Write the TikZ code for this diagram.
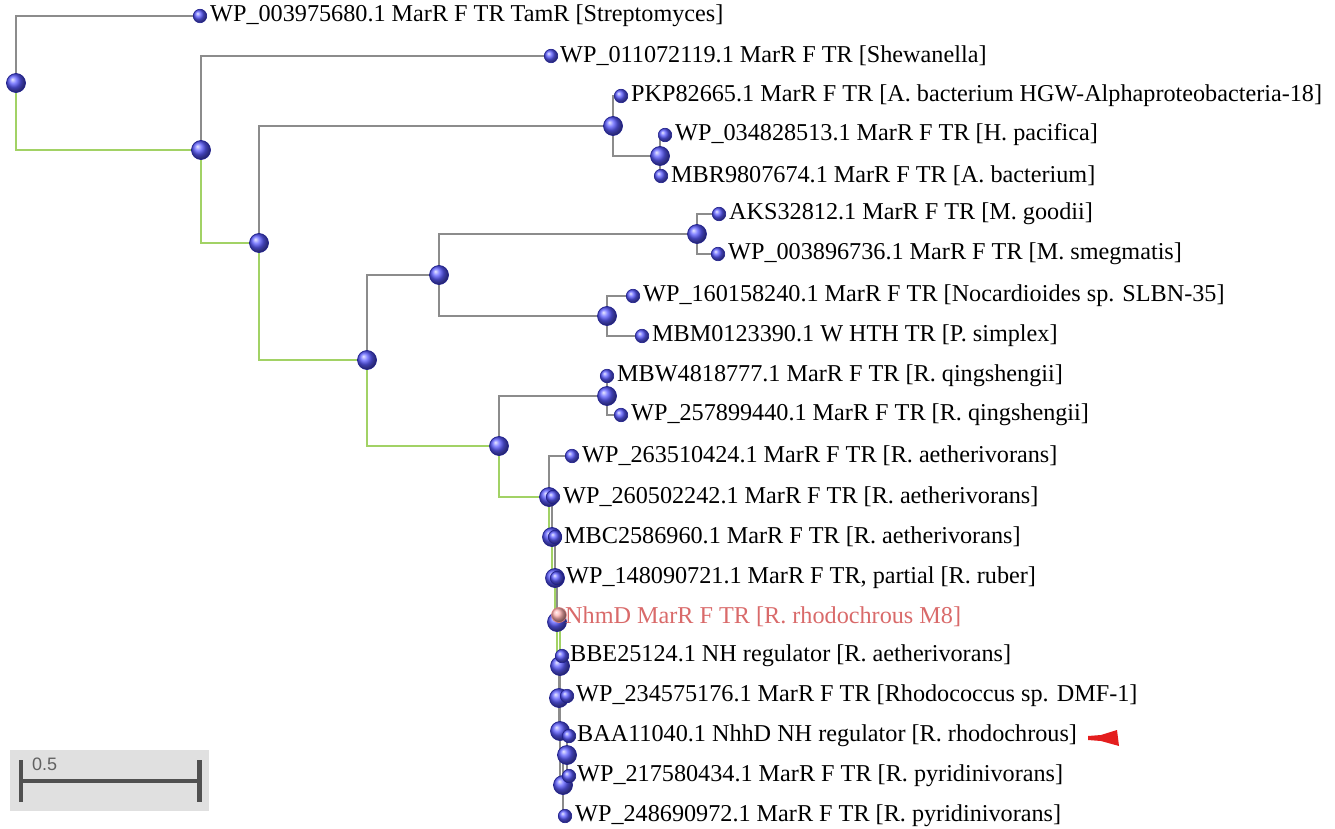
\documentclass[tikz,border=0pt]{standalone}
\usepackage{fontspec}
\setmainfont{Liberation Serif}
\setsansfont{Liberation Sans}
\definecolor{linegray}{HTML}{8C8C8C}
\definecolor{linegreen}{HTML}{A2D265}
\definecolor{dotblue}{HTML}{5A5AFF}
\definecolor{dotedge}{HTML}{1E1E8C}
\definecolor{dotpink}{HTML}{FFB0B0}
\definecolor{pinkedge}{HTML}{E08080}
\definecolor{pinktext}{HTML}{D96A6A}
\definecolor{barbox}{HTML}{E0E0E0}
\definecolor{bardark}{HTML}{505050}
\definecolor{arrowred}{HTML}{E41E1E}
\tikzset{
  gline/.style={draw=linegray, line width=1.4pt},
  hline/.style={draw=linegreen, line width=1.5pt},
  leafdot/.style={circle, inner sep=0pt, minimum size=13.5pt, ball color=dotblue, draw=dotedge, line width=0.6pt},
  pinkdot/.style={circle, inner sep=0pt, minimum size=15pt, ball color=dotpink, draw=pinkedge, line width=0.6pt},
  nodedot/.style={circle, inner sep=0pt, minimum size=19pt, ball color=dotblue, draw=dotedge, line width=0.7pt},
  lab/.style={font=\fontsize{24.2}{28}\selectfont, inner sep=0pt, anchor=west, text=black},
  scalelab/.style={font=\sffamily\fontsize{18}{22}\selectfont, text=bardark!90, inner sep=0pt}
}
\begin{document}
\begin{tikzpicture}[x=1pt,y=-1pt]
\useasboundingbox (0,0) rectangle (1335,829);
% internal coordinates
\coordinate (R) at (16,83);
\coordinate (A) at (201,150);
\coordinate (B) at (259,243);
\coordinate (F) at (613,126);
\coordinate (C) at (660,156);
\coordinate (D) at (367,360);
\coordinate (I) at (439,275);
\coordinate (G) at (697,234);
\coordinate (H) at (607,316);
\coordinate (E) at (499,446);
\coordinate (J) at (607,396);
\coordinate (Ni) at (549,497);
\coordinate (Nh) at (552,537);
\coordinate (Ng) at (555,578);
\coordinate (Nf) at (557,622);
\coordinate (Ne) at (560,666);
\coordinate (Nd) at (559,698);
\coordinate (Nc) at (560,731);
\coordinate (Na) at (567,755);
\coordinate (Nb) at (563,785);
% leaf coordinates
\coordinate (L1) at (200,16);
\coordinate (L2) at (551,56);
\coordinate (L3) at (621,96);
\coordinate (L4) at (665,135);
\coordinate (L5) at (661,176);
\coordinate (L6) at (719,214);
\coordinate (L7) at (718,254);
\coordinate (L8) at (633,296);
\coordinate (L9) at (642,336);
\coordinate (L10) at (607,376);
\coordinate (L11) at (621,415);
\coordinate (L12) at (572,456);
\coordinate (L13) at (553,497);
\coordinate (L14) at (555,537);
\coordinate (L15) at (557,578);
\coordinate (L16) at (559,615);
\coordinate (L17) at (562,656);
\coordinate (L18) at (567,696);
\coordinate (L19) at (569,736);
\coordinate (L20) at (569,776);
\coordinate (L21) at (565,816);
% gray edges
\draw[gline] (R) |- (L1);
\draw[gline] (A) |- (L2);
\draw[gline] (B) |- (F);
\draw[gline] (F) |- (L3);
\draw[gline] (F) |- (C);
\draw[gline] (C) |- (L4);
\draw[gline] (C) |- (L5);
\draw[gline] (D) |- (I);
\draw[gline] (I) |- (G);
\draw[gline] (I) |- (H);
\draw[gline] (G) |- (L6);
\draw[gline] (G) |- (L7);
\draw[gline] (H) |- (L8);
\draw[gline] (H) |- (L9);
\draw[gline] (E) |- (J);
\draw[gline] (J) |- (L10);
\draw[gline] (J) |- (L11);
\draw[gline] (Ni) |- (L12);
\draw[gline] (Nh) |- (L13);
\draw[gline] (Ng) |- (L14);
\draw[gline] (Nf) |- (L15);
\draw[gline] (Ne) |- (Nd);
\draw[gline] (Nd) |- (L17);
\draw[gline] (Nd) |- (Nc);
\draw[gline] (Nc) |- (L18);
\draw[gline] (Nc) |- (Nb);
\draw[gline] (Nb) |- (Na);
\draw[gline] (Nb) |- (L21);
\draw[gline] (Na) |- (L19);
\draw[gline] (Na) |- (L20);
% green highlighted path
\draw[hline] (R) |- (A);
\draw[hline] (A) |- (B);
\draw[hline] (B) |- (D);
\draw[hline] (D) |- (E);
\draw[hline] (E) |- (Ni);
\draw[hline] (Ni) |- (Nh);
\draw[hline] (Nh) |- (Ng);
\draw[hline] (Ng) |- (Nf);
\draw[hline] (Nf) |- (Ne);
\draw[hline] (Ne) |- (L16);
% internal dots
\foreach \n in {R,A,B,F,C,D,I,G,H,E,J,Ni,Nh,Ng,Nf,Ne,Nd,Nc,Na,Nb}
  \node[nodedot] (d\n) at (\n) {};
% leaf dots
\foreach \n in {L1,L2,L3,L4,L5,L6,L7,L8,L9,L10,L11,L12,L13,L14,L15,L17,L18,L19,L20,L21}
  \node[leafdot] (d\n) at (\n) {};
\node[pinkdot] (dL16) at (L16) {};
% labels
\node[lab] (t1) at ([xshift=10pt]L1) {WP\_003975680.1 MarR F TR TamR [Streptomyces]};
\node[lab] (t2) at ([xshift=9pt]L2) {WP\_011072119.1 MarR F TR [Shewanella]};
\node[lab] (t3) at ([xshift=10pt]L3) {PKP82665.1 MarR F TR [A. bacterium HGW-Alphaproteobacteria-18]};
\node[lab] (t4) at ([xshift=10pt]L4) {WP\_034828513.1 MarR F TR [H. pacifica]};
\node[lab] (t5) at ([xshift=10pt]L5) {MBR9807674.1 MarR F TR [A. bacterium]};
\node[lab] (t6) at ([xshift=10pt]L6) {AKS32812.1 MarR F TR [M. goodii]};
\node[lab] (t7) at ([xshift=10pt]L7) {WP\_003896736.1 MarR F TR [M. smegmatis]};
\node[lab] (t8) at ([xshift=10pt]L8) {WP\_160158240.1 MarR F TR [Nocardioides sp. SLBN-35]};
\node[lab] (t9) at ([xshift=10pt]L9) {MBM0123390.1 W HTH TR [P. simplex]};
\node[lab] (t10) at ([xshift=10pt]L10) {MBW4818777.1 MarR F TR [R. qingshengii]};
\node[lab] (t11) at ([xshift=10pt]L11) {WP\_257899440.1 MarR F TR [R. qingshengii]};
\node[lab] (t12) at ([xshift=10pt]L12) {WP\_263510424.1 MarR F TR [R. aetherivorans]};
\node[lab] (t13) at ([xshift=10pt]L13) {WP\_260502242.1 MarR F TR [R. aetherivorans]};
\node[lab] (t14) at ([xshift=9pt]L14) {MBC2586960.1 MarR F TR [R. aetherivorans]};
\node[lab] (t15) at ([xshift=9pt]L15) {WP\_148090721.1 MarR F TR, partial [R. ruber]};
\node[lab, text=pinktext] (t16) at ([xshift=6pt,yshift=-2pt]L16) {NhmD MarR F TR [R. rhodochrous M8]};
\node[lab] (t17) at ([xshift=8pt]L17) {BBE25124.1 NH regulator [R. aetherivorans]};
\node[lab] (t18) at ([xshift=9pt]L18) {WP\_234575176.1 MarR F TR [Rhodococcus sp. DMF-1]};
\node[lab] (t19) at ([xshift=8pt]L19) {BAA11040.1 NhhD NH regulator [R. rhodochrous]};
\node[lab] (t20) at ([xshift=8pt]L20) {WP\_217580434.1 MarR F TR [R. pyridinivorans]};
\node[lab] (t21) at ([xshift=10pt]L21) {WP\_248690972.1 MarR F TR [R. pyridinivorans]};
% red pointer
\fill[arrowred] (1088,736) -- (1101,735) -- (1117,730) -- (1119,746) -- (1101,741) -- (1088,740) -- cycle;
% scale bar
\fill[barbox] (10,750) rectangle (209,811);
\coordinate (sL) at (21,781);
\coordinate (sR) at (199,781);
\draw[bardark, line width=3.5pt] (sL) -- (sR);
\draw[bardark, line width=4pt] (21,760) -- (21,802);
\draw[bardark, line width=5pt] (199,760) -- (199,802);
\node[scalelab, anchor=west] (slab) at (32,764) {0.5};
\end{tikzpicture}
\end{document}
